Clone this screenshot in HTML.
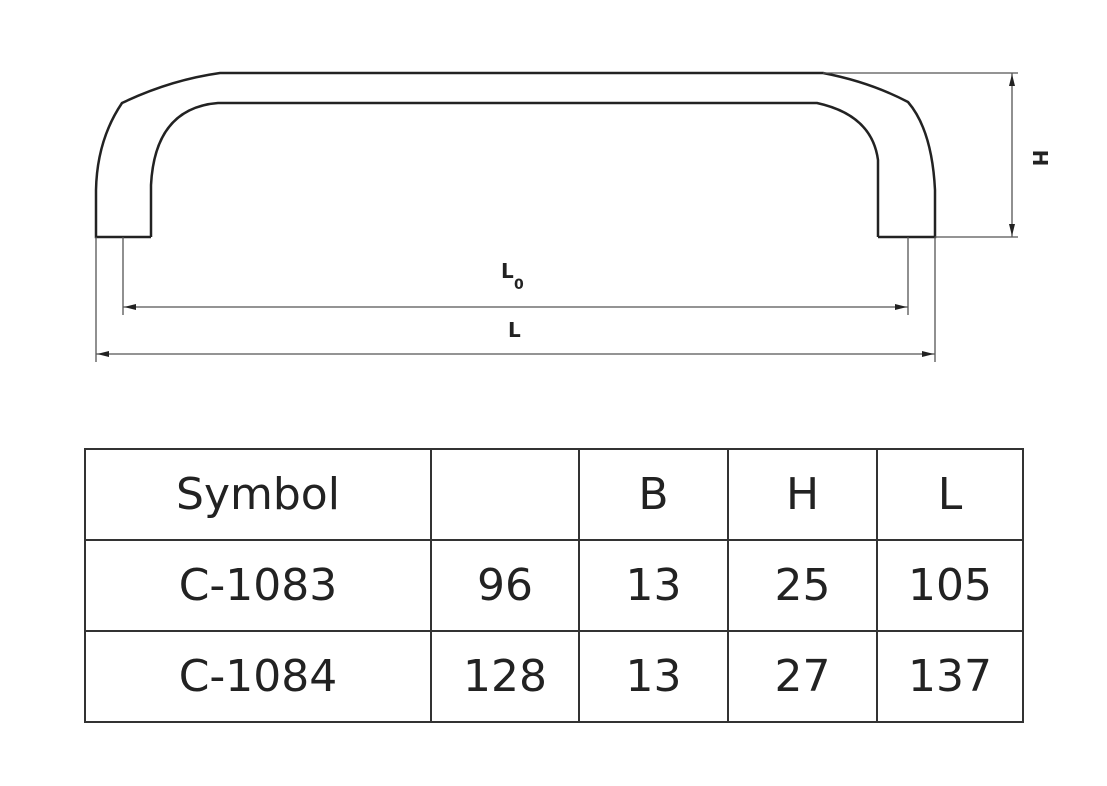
<!DOCTYPE html>
<html><head><style>
body{margin:0;background:#fff;width:1107px;height:786px;overflow:hidden;position:relative}
svg{position:absolute;left:0;top:0}
table{position:absolute;left:84px;top:448px;border-collapse:collapse;font-family:"DejaVu Sans","Liberation Sans",sans-serif;font-size:44px;color:#222}
td{border:2px solid #333;text-align:center;padding:0;height:89px}
</style></head><body>
<svg width="1107" height="786" viewBox="0 0 1107 786">
<g fill="none" stroke="#222" stroke-width="2.5">
<path d="M151,237 L96,237 L96,190 Q97,140 122,103 Q170,80 220,73 L823,73 Q870,82 908,102 Q932,130 935,190 L935,237 L878,237"/>
<path d="M151,237 L151,185 Q155,108 218,103 L817,103 Q872,115 878,160 L878,237"/>
</g>
<g fill="none" stroke="#555" stroke-width="1.3">
<line x1="823" y1="73" x2="1018" y2="73"/>
<line x1="935" y1="237" x2="1018" y2="237"/>
<line x1="1012" y1="73" x2="1012" y2="237"/>
<line x1="123" y1="237" x2="123" y2="315"/>
<line x1="908" y1="237" x2="908" y2="315"/>
<line x1="123" y1="307" x2="908" y2="307"/>
<line x1="96" y1="237" x2="96" y2="362"/>
<line x1="935" y1="237" x2="935" y2="362"/>
<line x1="96" y1="354" x2="935" y2="354"/>
</g>
<g fill="#222">
<polygon points="1012,74 1009,86 1015,86"/><polygon points="1012,236 1009,224 1015,224"/>
<polygon points="124,307 136,304 136,310"/><polygon points="907,307 895,304 895,310"/>
<polygon points="97,354 109,351 109,357"/><polygon points="934,354 922,351 922,357"/>
</g>
<g font-family="DejaVu Sans,sans-serif" font-weight="bold" font-size="20" fill="#222">
<text x="501" y="278">L</text><text x="514" y="289" font-size="14">0</text>
<text x="508" y="337">L</text>
<text transform="translate(1033,158) rotate(90)" text-anchor="middle">H</text>
</g>
</svg>
<table>
<tr><td style="width:344px">Symbol</td><td style="width:146px"></td><td style="width:147px">B</td><td style="width:147px">H</td><td style="width:144px">L</td></tr>
<tr><td>C-1083</td><td>96</td><td>13</td><td>25</td><td>105</td></tr>
<tr><td>C-1084</td><td>128</td><td>13</td><td>27</td><td>137</td></tr>
</table>
</body></html>
